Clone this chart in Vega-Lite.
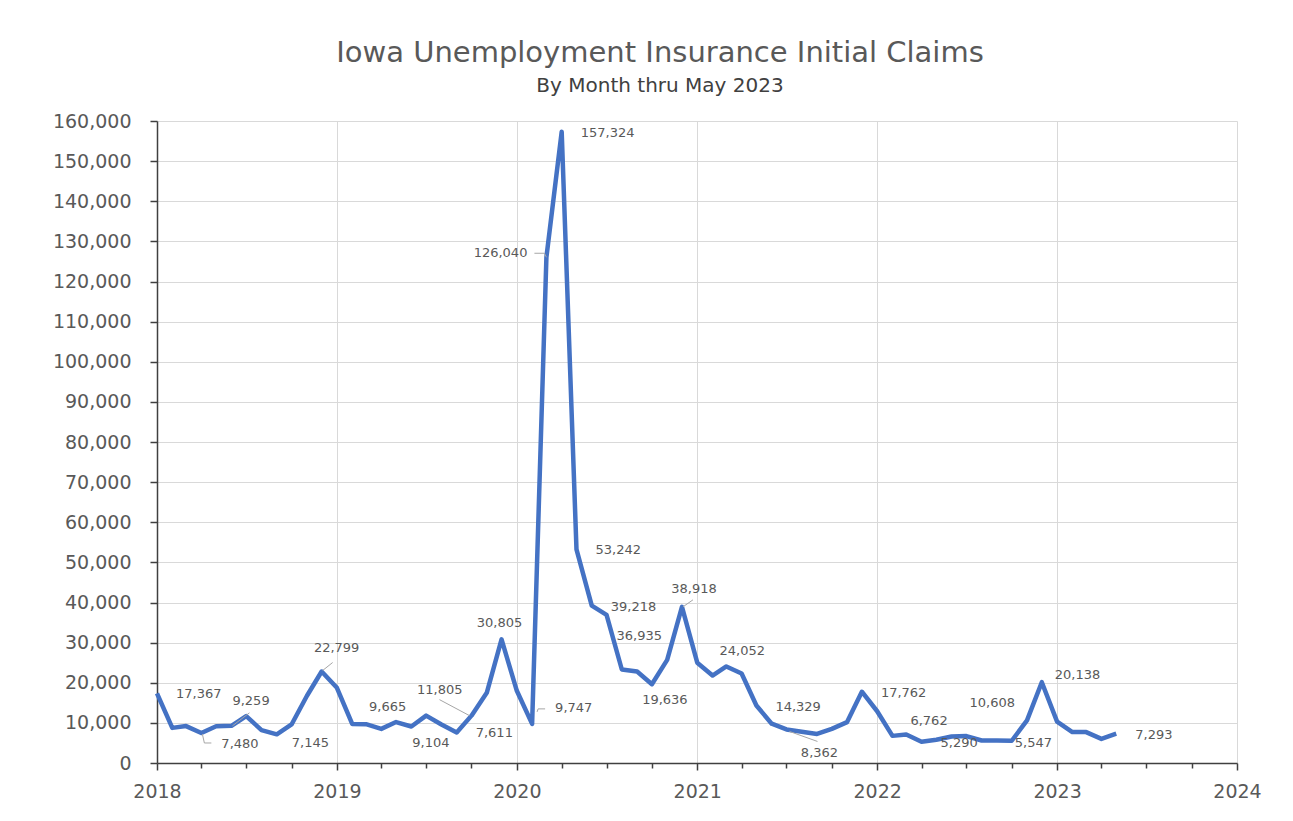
{
  "$schema": "https://vega.github.io/schema/vega-lite/v6.json",
  "width": 1080,
  "height": 642,
  "autosize": {"type": "none"},
  "padding": {"left": 157, "top": 121, "right": 56, "bottom": 58},
  "background": "white",
  "title": {
    "text": "Iowa Unemployment Insurance Initial Claims",
    "subtitle": "By Month thru May 2023",
    "anchor": "middle",
    "dx": -37,
    "offset": 16,
    "font": "DejaVu Sans",
    "fontSize": 29,
    "fontWeight": "normal",
    "color": "#595959",
    "subtitleFont": "DejaVu Sans",
    "subtitleFontSize": 20,
    "subtitleColor": "#404040",
    "subtitlePadding": 8
  },
  "config": {
    "view": {"stroke": null},
    "text": {"font": "DejaVu Sans", "fontSize": 13, "color": "#595959", "baseline": "middle"}
  },
  "data": {
    "values": [
      {"date": "2018-01-01", "claims": 17367},
      {"date": "2018-02-01", "claims": 8750},
      {"date": "2018-03-01", "claims": 9200},
      {"date": "2018-04-01", "claims": 7480},
      {"date": "2018-05-01", "claims": 9150},
      {"date": "2018-06-01", "claims": 9259},
      {"date": "2018-07-01", "claims": 11700},
      {"date": "2018-08-01", "claims": 8200},
      {"date": "2018-09-01", "claims": 7145},
      {"date": "2018-10-01", "claims": 9600},
      {"date": "2018-11-01", "claims": 16700},
      {"date": "2018-12-01", "claims": 22799},
      {"date": "2019-01-01", "claims": 18750},
      {"date": "2019-02-01", "claims": 9750},
      {"date": "2019-03-01", "claims": 9665},
      {"date": "2019-04-01", "claims": 8500},
      {"date": "2019-05-01", "claims": 10200},
      {"date": "2019-06-01", "claims": 9104},
      {"date": "2019-07-01", "claims": 11800},
      {"date": "2019-08-01", "claims": 9600},
      {"date": "2019-09-01", "claims": 7611},
      {"date": "2019-10-01", "claims": 11805},
      {"date": "2019-11-01", "claims": 17500},
      {"date": "2019-12-01", "claims": 30805},
      {"date": "2020-01-01", "claims": 18000},
      {"date": "2020-02-01", "claims": 9747},
      {"date": "2020-03-01", "claims": 126040},
      {"date": "2020-04-01", "claims": 157324},
      {"date": "2020-05-01", "claims": 53242},
      {"date": "2020-06-01", "claims": 39218},
      {"date": "2020-07-01", "claims": 36935},
      {"date": "2020-08-01", "claims": 23300},
      {"date": "2020-09-01", "claims": 22800},
      {"date": "2020-10-01", "claims": 19636},
      {"date": "2020-11-01", "claims": 25700},
      {"date": "2020-12-01", "claims": 38918},
      {"date": "2021-01-01", "claims": 25000},
      {"date": "2021-02-01", "claims": 21800},
      {"date": "2021-03-01", "claims": 24052},
      {"date": "2021-04-01", "claims": 22300},
      {"date": "2021-05-01", "claims": 14329},
      {"date": "2021-06-01", "claims": 9800},
      {"date": "2021-07-01", "claims": 8362},
      {"date": "2021-08-01", "claims": 7800},
      {"date": "2021-09-01", "claims": 7250},
      {"date": "2021-10-01", "claims": 8500},
      {"date": "2021-11-01", "claims": 10200},
      {"date": "2021-12-01", "claims": 17762},
      {"date": "2022-01-01", "claims": 12900},
      {"date": "2022-02-01", "claims": 6762},
      {"date": "2022-03-01", "claims": 7100},
      {"date": "2022-04-01", "claims": 5290},
      {"date": "2022-05-01", "claims": 5800},
      {"date": "2022-06-01", "claims": 6600},
      {"date": "2022-07-01", "claims": 6700},
      {"date": "2022-08-01", "claims": 5600},
      {"date": "2022-09-01", "claims": 5600},
      {"date": "2022-10-01", "claims": 5547},
      {"date": "2022-11-01", "claims": 10608},
      {"date": "2022-12-01", "claims": 20138},
      {"date": "2023-01-01", "claims": 10300},
      {"date": "2023-02-01", "claims": 7700},
      {"date": "2023-03-01", "claims": 7700},
      {"date": "2023-04-01", "claims": 6000},
      {"date": "2023-05-01", "claims": 7293}
    ]
  },
  "encoding": {
    "x": {
      "field": "date",
      "type": "temporal",
      "scale": {"type": "utc", "domain": [{"year": 2018, "month": 1, "date": 1, "utc": true}, {"year": 2024, "month": 1, "date": 1, "utc": true}]},
      "axis": {
        "title": null,
        "tickCount": {"interval": "month", "step": 3},
        "labelExpr": "utcmonth(datum.value) === 0 ? utcFormat(datum.value, '%Y') : ''",
        "labelOverlap": false,
        "labelFlush": false,
        "grid": true,
        "gridColor": "#d9d9d9",
        "gridOpacity": {"condition": {"test": "utcmonth(datum.value) === 0", "value": 1}, "value": 0},
        "tickSize": {"condition": {"test": "utcmonth(datum.value) === 0", "value": 7}, "value": 5},
        "tickColor": "#404040",
        "tickWidth": 1.5,
        "domainColor": "#404040",
        "domainWidth": 1.5,
        "labelFont": "DejaVu Sans",
        "labelFontSize": 19,
        "labelColor": "#595959",
        "labelPadding": 12
      }
    },
    "y": {
      "field": "claims",
      "type": "quantitative",
      "scale": {"domain": [0, 160000], "nice": false},
      "axis": {
        "title": null,
        "values": [0, 10000, 20000, 30000, 40000, 50000, 60000, 70000, 80000, 90000, 100000, 110000, 120000, 130000, 140000, 150000, 160000],
        "format": ",d",
        "grid": true,
        "gridColor": "#d9d9d9",
        "tickSize": 7,
        "tickColor": "#404040",
        "tickWidth": 1.5,
        "domainColor": "#404040",
        "domainWidth": 1.5,
        "labelFont": "DejaVu Sans",
        "labelFontSize": 19,
        "labelColor": "#595959",
        "labelPadding": 19
      }
    }
  },
  "layer": [
    {"mark": {"type": "line", "color": "#4472C4", "strokeWidth": 4.5, "strokeJoin": "round"}},
    {"transform": [{"filter": "datum.claims == 7480"}], "mark": {"type": "rule", "color": "#a6a6a6", "strokeWidth": 1, "xOffset": 1, "yOffset": 1, "x2Offset": 3, "y2Offset": 10}, "encoding": {"x2": {"field": "date"}, "y2": {"field": "claims"}}},
    {"transform": [{"filter": "datum.claims == 7480"}], "mark": {"type": "rule", "color": "#a6a6a6", "strokeWidth": 1, "xOffset": 3, "yOffset": 10, "x2Offset": 10, "y2Offset": 10}, "encoding": {"x2": {"field": "date"}, "y2": {"field": "claims"}}},
    {"transform": [{"filter": "datum.claims == 9259"}], "mark": {"type": "rule", "color": "#a6a6a6", "strokeWidth": 1, "xOffset": 1, "yOffset": 0, "x2Offset": 18, "y2Offset": -13}, "encoding": {"x2": {"field": "date"}, "y2": {"field": "claims"}}},
    {"transform": [{"filter": "datum.claims == 22799"}], "mark": {"type": "rule", "color": "#a6a6a6", "strokeWidth": 1, "xOffset": 1, "yOffset": -1, "x2Offset": 11, "y2Offset": -9}, "encoding": {"x2": {"field": "date"}, "y2": {"field": "claims"}}},
    {"transform": [{"filter": "datum.claims == 11805"}], "mark": {"type": "rule", "color": "#a6a6a6", "strokeWidth": 1, "xOffset": -32, "yOffset": -16, "x2Offset": -2, "y2Offset": 0}, "encoding": {"x2": {"field": "date"}, "y2": {"field": "claims"}}},
    {"transform": [{"filter": "datum.claims == 9747"}], "mark": {"type": "rule", "color": "#a6a6a6", "strokeWidth": 1, "xOffset": 5, "yOffset": -12, "x2Offset": 6, "y2Offset": -15}, "encoding": {"x2": {"field": "date"}, "y2": {"field": "claims"}}},
    {"transform": [{"filter": "datum.claims == 9747"}], "mark": {"type": "rule", "color": "#a6a6a6", "strokeWidth": 1, "xOffset": 6, "yOffset": -15, "x2Offset": 13, "y2Offset": -15}, "encoding": {"x2": {"field": "date"}, "y2": {"field": "claims"}}},
    {"transform": [{"filter": "datum.claims == 126040"}], "mark": {"type": "rule", "color": "#a6a6a6", "strokeWidth": 1, "xOffset": -12, "yOffset": -4, "x2Offset": -2, "y2Offset": -4}, "encoding": {"x2": {"field": "date"}, "y2": {"field": "claims"}}},
    {"transform": [{"filter": "datum.claims == 126040"}], "mark": {"type": "rule", "color": "#a6a6a6", "strokeWidth": 1, "xOffset": -2, "yOffset": -4, "x2Offset": 0, "y2Offset": 0}, "encoding": {"x2": {"field": "date"}, "y2": {"field": "claims"}}},
    {"transform": [{"filter": "datum.claims == 38918"}], "mark": {"type": "rule", "color": "#a6a6a6", "strokeWidth": 1, "xOffset": 1, "yOffset": 0, "x2Offset": 11, "y2Offset": -7}, "encoding": {"x2": {"field": "date"}, "y2": {"field": "claims"}}},
    {"transform": [{"filter": "datum.claims == 8362"}], "mark": {"type": "rule", "color": "#a6a6a6", "strokeWidth": 1, "xOffset": 3, "yOffset": 2, "x2Offset": 31, "y2Offset": 12}, "encoding": {"x2": {"field": "date"}, "y2": {"field": "claims"}}},
    {"transform": [{"filter": "indexof([17367, 7611, 157324, 53242, 39218, 14329, 17762, 5290, 7293], datum.claims) >= 0"}], "mark": {"type": "text", "align": "left", "dx": 19, "dy": 1}, "encoding": {"text": {"field": "claims", "format": ","}}},
    {"transform": [{"filter": "datum.claims == 7480"}], "mark": {"type": "text", "align": "left", "dx": 20, "dy": 11}, "encoding": {"text": {"field": "claims", "format": ","}}},
    {"transform": [{"filter": "datum.claims == 7145"}], "mark": {"type": "text", "align": "left", "dx": 15, "dy": 9}, "encoding": {"text": {"field": "claims", "format": ","}}},
    {"transform": [{"filter": "datum.claims == 9259"}], "mark": {"type": "text", "align": "left", "dx": 1, "dy": -25}, "encoding": {"text": {"field": "claims", "format": ","}}},
    {"transform": [{"filter": "datum.claims == 22799"}], "mark": {"type": "text", "align": "center", "dx": 15, "dy": -24}, "encoding": {"text": {"field": "claims", "format": ","}}},
    {"transform": [{"filter": "datum.claims == 9665"}], "mark": {"type": "text", "align": "left", "dx": 3, "dy": -17}, "encoding": {"text": {"field": "claims", "format": ","}}},
    {"transform": [{"filter": "datum.claims == 9104"}], "mark": {"type": "text", "align": "left", "dx": 1, "dy": 17}, "encoding": {"text": {"field": "claims", "format": ","}}},
    {"transform": [{"filter": "datum.claims == 11805"}], "mark": {"type": "text", "align": "right", "dx": -9, "dy": -26}, "encoding": {"text": {"field": "claims", "format": ","}}},
    {"transform": [{"filter": "datum.claims == 30805"}], "mark": {"type": "text", "align": "center", "dx": -2, "dy": -16}, "encoding": {"text": {"field": "claims", "format": ","}}},
    {"transform": [{"filter": "datum.claims == 9747"}], "mark": {"type": "text", "align": "left", "dx": 23, "dy": -16}, "encoding": {"text": {"field": "claims", "format": ","}}},
    {"transform": [{"filter": "datum.claims == 126040"}], "mark": {"type": "text", "align": "right", "dx": -19, "dy": -4}, "encoding": {"text": {"field": "claims", "format": ","}}},
    {"transform": [{"filter": "datum.claims == 36935"}], "mark": {"type": "text", "align": "left", "dx": 10, "dy": 21}, "encoding": {"text": {"field": "claims", "format": ","}}},
    {"transform": [{"filter": "datum.claims == 19636"}], "mark": {"type": "text", "align": "center", "dx": 13, "dy": 16}, "encoding": {"text": {"field": "claims", "format": ","}}},
    {"transform": [{"filter": "datum.claims == 38918"}], "mark": {"type": "text", "align": "center", "dx": 12, "dy": -18}, "encoding": {"text": {"field": "claims", "format": ","}}},
    {"transform": [{"filter": "datum.claims == 24052"}], "mark": {"type": "text", "align": "center", "dx": 16, "dy": -15}, "encoding": {"text": {"field": "claims", "format": ","}}},
    {"transform": [{"filter": "datum.claims == 8362"}], "mark": {"type": "text", "align": "center", "dx": 33, "dy": 24}, "encoding": {"text": {"field": "claims", "format": ","}}},
    {"transform": [{"filter": "datum.claims == 6762"}], "mark": {"type": "text", "align": "left", "dx": 18, "dy": -15}, "encoding": {"text": {"field": "claims", "format": ","}}},
    {"transform": [{"filter": "datum.claims == 10608"}], "mark": {"type": "text", "align": "right", "dx": -12, "dy": -17}, "encoding": {"text": {"field": "claims", "format": ","}}},
    {"transform": [{"filter": "datum.claims == 5547"}], "mark": {"type": "text", "align": "left", "dx": 3, "dy": 2}, "encoding": {"text": {"field": "claims", "format": ","}}},
    {"transform": [{"filter": "datum.claims == 20138"}], "mark": {"type": "text", "align": "left", "dx": 13, "dy": -7}, "encoding": {"text": {"field": "claims", "format": ","}}}
  ]
}
